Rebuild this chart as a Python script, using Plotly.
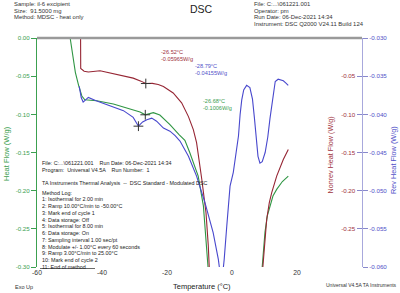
import plotly.graph_objects as go

# ---------------- data ----------------
hf_temp = [-49.8, -49.0, -48.2, -47.2, -46.2, -45.3, -43.5, -41.6, -36.5, -31.4, -28.3,
           -26.68, -25.5, -24.2, -22.2, -19.1, -16.3, -14.5, -13.0, -11.7, -10.4, -8.8,
           -8.0, -7.6, -7.2]
hf_val = [0.0, -0.025, -0.045, -0.062, -0.076, -0.081, -0.0815, -0.0822, -0.0865, -0.0926,
          -0.097, -0.1006, -0.099, -0.0978, -0.1010, -0.1135, -0.1265, -0.134, -0.150,
          -0.165, -0.181, -0.220, -0.260, -0.290, -0.31]
hf_temp2 = [9.1, 9.45, 10.15, 10.86, 11.69, 12.6, 13.75, 15.5, 17.32]
hf_val2 = [-0.31, -0.2896, -0.2543, -0.2330, -0.2200, -0.2070, -0.1983, -0.1880, -0.1809]

nr_temp = [-46.6, -46.55, -45.5, -44.2, -40.6, -35.5, -30.4, -28.0, -26.52, -24.5, -22.7,
           -21.1, -18.1, -15.5, -13.4, -11.9, -10.9, -9.3, -8.0, -7.3, -6.9]
nr_val = [0.01, -0.040, -0.0435, -0.0445, -0.043, -0.0474, -0.0526, -0.0565, -0.05965,
          -0.0595, -0.0610, -0.0635, -0.072, -0.085, -0.103, -0.120, -0.137, -0.185,
          -0.229, -0.272, -0.31]
nr_temp2 = [9.3, 9.63, 10.15, 10.68, 11.48, 12.22, 13.75, 15.78, 17.32]
nr_val2 = [-0.31, -0.2896, -0.2591, -0.2374, -0.2157, -0.2026, -0.1809, -0.1591, -0.1461]

rv_temp = [-47.0, -46.4, -45.8, -45.0, -44.2, -42.0, -38.6, -36.0, -33.4, -30.4, -28.79,
           -27.5, -26.2, -24.7, -23.2, -21.1, -19.1, -17.5, -16.0, -13.4, -10.9, -8.3,
           -5.8, -4.2, -3.6]
rv_val = [-0.03635, -0.0378, -0.03839, -0.0381, -0.03779, -0.0382, -0.03874, -0.0391,
          -0.03952, -0.0404, -0.04155, -0.0410, -0.0407, -0.0405, -0.0409, -0.0418,
          -0.0422, -0.0428, -0.0435, -0.0455, -0.0481, -0.0516, -0.0555, -0.0590, -0.0610]
rv_temp2 = [-3.0, -2.4, -1.6, -0.6, 0.4, 1.4, 2.0, 2.5, 3.0, 3.6, 4.5, 5.5, 6.3, 6.9, 7.4,
            8.0, 8.6, 9.3, 10.2, 11.0, 11.7, 12.3, 12.8, 13.3, 14.2, 15.8, 16.6, 17.3]
rv_val2 = [-0.0615, -0.0590, -0.0546, -0.0494, -0.0476, -0.0447, -0.0428, -0.0400, -0.0381,
           -0.0368, -0.0362, -0.0365, -0.0380, -0.0405, -0.0430, -0.0455, -0.0464, -0.0462,
           -0.0450, -0.0430, -0.0405, -0.0385, -0.0368, -0.0357, -0.0354, -0.0356,
           -0.0359, -0.0362]

# marked points
hf_mark = (-26.68, -0.1006)
nr_mark = (-26.52, -0.05965)
rv_mark = (-28.79, -0.04155)

x_ticks = [-60, -40, -20, 0, 20, 40]
hf_ticks = [0.0, -0.05, -0.10, -0.15, -0.20, -0.25, -0.30]
nr_ticks = [-0.05, -0.10, -0.15, -0.20, -0.25]
rv_ticks = [-0.030, -0.035, -0.040, -0.045, -0.050, -0.055, -0.060]

header_left = ["Sample: il-6 excipient", "Size:  91.5000 mg", "Method: MDSC - heat only"]
header_right = ["File: C:...\\061221.001", "Operator: pm", "Run Date: 06-Dec-2021 14:34",
                "Instrument: DSC Q2000 V24.11 Build 124"]
log_lines = [
    "File: C:...\\061221.001    Run Date: 06-Dec-2021 14:34",
    "Program:  Universal V4.5A    Run Number:  1",
    "TA Instruments Thermal Analysis  --  DSC Standard - Modulated DSC",
    "Method Log:",
    "1: Isothermal for 2.00 min",
    "2: Ramp 10.00°C/min to -50.00°C",
    "3: Mark end of cycle 1",
    "4: Data storage: Off",
    "5: Isothermal for 8.00 min",
    "6: Data storage: On",
    "7: Sampling interval 1.00 sec/pt",
    "8: Modulate +/- 1.00°C every 60 seconds",
    "9: Ramp 3.00°C/min to 25.00°C",
    "10: Mark end of cycle 2",
    "11: End of method",
]
log_y_px = [163, 169.5, 183, 193.3, 199.5, 206, 213, 219.5, 226, 233, 239.5, 246.5, 253,
            260, 266.5]

# ---------------- style ----------------
FONT = "Liberation Sans, Arial, sans-serif"
GREEN = "rgb(48,150,68)"
RED = "rgb(150,38,52)"
BLUE = "rgb(72,72,205)"
GREEN_T = "rgb(60,160,80)"
RED_T = "rgb(160,50,60)"
BLUE_T = "rgb(80,80,200)"
W, H = 400, 293
L, R, T, B = 37, 38, 38, 26
PW, PH = W - L - R, H - T - B


def px(x):
    return (x - L) / PW


def py(y):
    return (H - B - y) / PH


def fmt(v, d):
    return f"{v:.{d}f}".replace("\u2212", "-")


fig = go.Figure()
lw = 1.1
fig.add_trace(go.Scatter(x=hf_temp, y=hf_val, mode="lines", line=dict(color=GREEN, width=lw),
                         yaxis="y", showlegend=False))
fig.add_trace(go.Scatter(x=hf_temp2, y=hf_val2, mode="lines", line=dict(color=GREEN, width=lw),
                         yaxis="y", showlegend=False))
fig.add_trace(go.Scatter(x=nr_temp, y=nr_val, mode="lines", line=dict(color=RED, width=lw),
                         yaxis="y2", showlegend=False))
fig.add_trace(go.Scatter(x=nr_temp2, y=nr_val2, mode="lines", line=dict(color=RED, width=lw),
                         yaxis="y2", showlegend=False))
fig.add_trace(go.Scatter(x=rv_temp, y=rv_val, mode="lines", line=dict(color=BLUE, width=lw),
                         yaxis="y3", showlegend=False))
fig.add_trace(go.Scatter(x=rv_temp2, y=rv_val2, mode="lines", line=dict(color=BLUE, width=lw),
                         yaxis="y3", showlegend=False))

mk = dict(symbol="cross-thin", size=7, line=dict(color="#333", width=1))
fig.add_trace(go.Scatter(x=[hf_mark[0]], y=[hf_mark[1]], mode="markers", marker=mk,
                         yaxis="y", showlegend=False))
fig.add_trace(go.Scatter(x=[nr_mark[0]], y=[nr_mark[1]], mode="markers", marker=mk,
                         yaxis="y2", showlegend=False))
fig.add_trace(go.Scatter(x=[rv_mark[0]], y=[rv_mark[1]], mode="markers", marker=mk,
                         yaxis="y3", showlegend=False))

ann = []
LBL = 5.6
# point labels
ann.append(dict(x=nr_mark[0], y=nr_mark[1], xref="x", yref="y2", showarrow=False,
                text=f"{nr_mark[0]:.2f}°C<br>{nr_mark[1]:.5f}W/g", xanchor="left",
                yanchor="middle", align="left", xshift=13, yshift=28,
                font=dict(size=LBL, color=RED_T, family=FONT)))
ann.append(dict(x=rv_mark[0], y=rv_mark[1], xref="x", yref="y3", showarrow=False,
                text=f"{rv_mark[0]:.2f}°C<br>{rv_mark[1]:.5f}W/g", xanchor="left",
                yanchor="middle", align="left", xshift=54.5, yshift=56.5,
                font=dict(size=LBL, color=BLUE_T, family=FONT)))
ann.append(dict(x=hf_mark[0], y=hf_mark[1], xref="x", yref="y", showarrow=False,
                text=f"{hf_mark[0]:.2f}°C<br>{hf_mark[1]:.4f}W/g", xanchor="left",
                yanchor="middle", align="left", xshift=56, yshift=10.5,
                font=dict(size=LBL, color=GREEN_T, family=FONT)))

# header
HDR = 5.9
for i, t in enumerate(header_left):
    ann.append(dict(x=px(11.7), y=py(4 + i * 6.7), xref="paper", yref="paper", text=t,
                    showarrow=False, xanchor="left", yanchor="middle",
                    font=dict(size=HDR, color="#333", family=FONT)))
for i, t in enumerate(header_right):
    ann.append(dict(x=px(252), y=py(4 + i * 6.7), xref="paper", yref="paper", text=t,
                    showarrow=False, xanchor="left", yanchor="middle",
                    font=dict(size=HDR, color="#333", family=FONT)))
ann.append(dict(x=px(201), y=py(9), xref="paper", yref="paper", text="DSC", showarrow=False,
                xanchor="center", yanchor="middle",
                font=dict(size=10.5, color="#222", family=FONT)))

# method log
for t, yy in zip(log_lines, log_y_px):
    ann.append(dict(x=px(40), y=py(yy), xref="paper", yref="paper", text=t, showarrow=False,
                    xanchor="left", yanchor="middle",
                    font=dict(size=5.4, color="#222", family=FONT)))

# axis titles
ann.append(dict(x=px(6.5), y=py(153.5), xref="paper", yref="paper", text="Heat Flow (W/g)",
                showarrow=False, textangle=-90, xanchor="center", yanchor="middle",
                font=dict(size=7.5, color=GREEN_T, family=FONT)))
ann.append(dict(x=px(330), y=py(155.5), xref="paper", yref="paper",
                text="Nonrev Heat Flow (W/g)", showarrow=False, textangle=-90,
                xanchor="center", yanchor="middle", font=dict(size=7.2, color=RED_T, family=FONT)))
ann.append(dict(x=px(393), y=py(160), xref="paper", yref="paper", text="Rev Heat Flow (W/g)",
                showarrow=False, textangle=-90, xanchor="center", yanchor="middle",
                font=dict(size=7.3, color=BLUE_T, family=FONT)))
ann.append(dict(x=px(201.7), y=py(286.5), xref="paper", yref="paper", text="Temperature (°C)",
                showarrow=False, xanchor="center", yanchor="middle",
                font=dict(size=7.5, color="#222", family=FONT)))
ann.append(dict(x=px(23.5), y=py(287), xref="paper", yref="paper", text="Exo Up",
                showarrow=False, xanchor="center", yanchor="middle",
                font=dict(size=5.5, color="#333", family=FONT)))
ann.append(dict(x=px(361.5), y=py(285), xref="paper", yref="paper",
                text="Universal V4.5A TA Instruments", showarrow=False, xanchor="center",
                yanchor="middle", font=dict(size=5, color="#333", family=FONT)))

shapes = [
    dict(type="line", xref="paper", yref="paper", x0=0, x1=1, y0=1, y1=1,
         line=dict(color="#9a9a9a", width=2.5)),
    dict(type="line", xref="paper", yref="paper", x0=px(40), x1=px(95), y0=py(268.5),
         y1=py(268.5), line=dict(color="#444", width=0.8)),
]

fig.update_layout(
    width=W, height=H,
    margin=dict(l=L, r=R, t=T, b=B),
    paper_bgcolor="white", plot_bgcolor="white",
    font=dict(family=FONT, size=7, color="#333"),
    xaxis=dict(range=[-60, 40], tickvals=x_ticks, ticktext=[str(v) for v in x_ticks],
               showgrid=False, zeroline=False, showline=False, ticks="",
               tickfont=dict(size=6.8, color="#333", family=FONT)),
    yaxis=dict(range=[-0.30, 0.0], tickvals=hf_ticks, ticktext=[fmt(v, 2) for v in hf_ticks],
               showgrid=False, zeroline=False, showline=True, linecolor=GREEN_T, linewidth=1,
               ticks="outside", ticklen=5, tickcolor=GREEN_T, tickwidth=1,
               tickfont=dict(size=6.2, color=GREEN_T, family=FONT)),
    yaxis2=dict(range=[-0.30, 0.0], overlaying="y", side="right", anchor="x",
                tickvals=nr_ticks, ticktext=[fmt(v, 2) for v in nr_ticks],
                showgrid=False, zeroline=False, showline=False,
                ticks="inside", ticklen=5, tickcolor="#8888cc", tickwidth=1,
                ticklabelposition="inside",
                tickfont=dict(size=6.2, color=RED_T, family=FONT)),
    yaxis3=dict(range=[-0.060, -0.030], overlaying="y", side="right", anchor="x",
                tickvals=rv_ticks, ticktext=[fmt(v, 3) for v in rv_ticks],
                showgrid=False, zeroline=False, showline=True, linecolor="#a8a8dc", linewidth=1,
                ticks="outside", ticklen=5, tickcolor="#8888cc", tickwidth=1,
                tickfont=dict(size=6.2, color=BLUE_T, family=FONT)),
    annotations=ann,
    shapes=shapes,
    showlegend=False,
)

fig.write_html(
    "out.html",
    config={"displayModeBar": False, "staticPlot": True},
    post_script="document.body.style.margin='0px';document.body.style.padding='0px';"
                "document.documentElement.style.overflow='hidden';",
)
